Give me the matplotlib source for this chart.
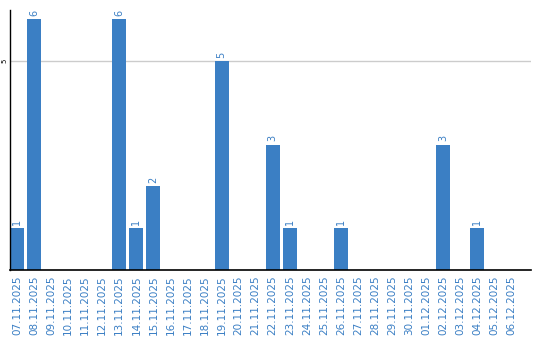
import matplotlib.pyplot as plt

dates = ['07.11.2025', '08.11.2025', '09.11.2025', '10.11.2025', '11.11.2025',
         '12.11.2025', '13.11.2025', '14.11.2025', '15.11.2025', '16.11.2025',
         '17.11.2025', '18.11.2025', '19.11.2025', '20.11.2025', '21.11.2025',
         '22.11.2025', '23.11.2025', '24.11.2025', '25.11.2025', '26.11.2025',
         '27.11.2025', '28.11.2025', '29.11.2025', '30.11.2025', '01.12.2025',
         '02.12.2025', '03.12.2025', '04.12.2025', '05.12.2025', '06.12.2025']
counts = [1, 6, 0, 0, 0, 0, 6, 1, 2, 0,
          0, 0, 5, 0, 0, 3, 1, 0, 0, 1,
          0, 0, 0, 0, 0, 3, 0, 1, 0, 0]

blue = '#3b7fc4'

fig = plt.figure(figsize=(5.4, 3.4), dpi=100)
ax = fig.add_axes([10 / 540, 70 / 340, 521 / 540, 260 / 340])

x = range(len(dates))
ax.bar(x, counts, width=0.82, color=blue, zorder=2)
for i, v in zip(x, counts):
    if v > 0:
        ax.text(i, v + 0.08, str(v), rotation=90, ha='center', va='bottom',
                color=blue, fontsize=7)

ax.set_xlim(-0.41, 30.15)
ax.set_ylim(0, 6.22)
ax.set_yticks([5])
ax.set_yticklabels(['5'], rotation=90, va='center', fontsize=5)
ax.yaxis.grid(True, color='#cccccc', linewidth=1, zorder=0)
ax.set_xticks(list(x))
ax.set_xticklabels(dates, rotation=90, color=blue, fontsize=7.5)
ax.tick_params(length=0, pad=4)
ax.tick_params(axis='y', pad=2)
for s in ['top', 'right']:
    ax.spines[s].set_visible(False)
ax.spines['left'].set_linewidth(1)
ax.spines['bottom'].set_linewidth(1.2)

plt.savefig('out.png', dpi=100)
plt.close()
